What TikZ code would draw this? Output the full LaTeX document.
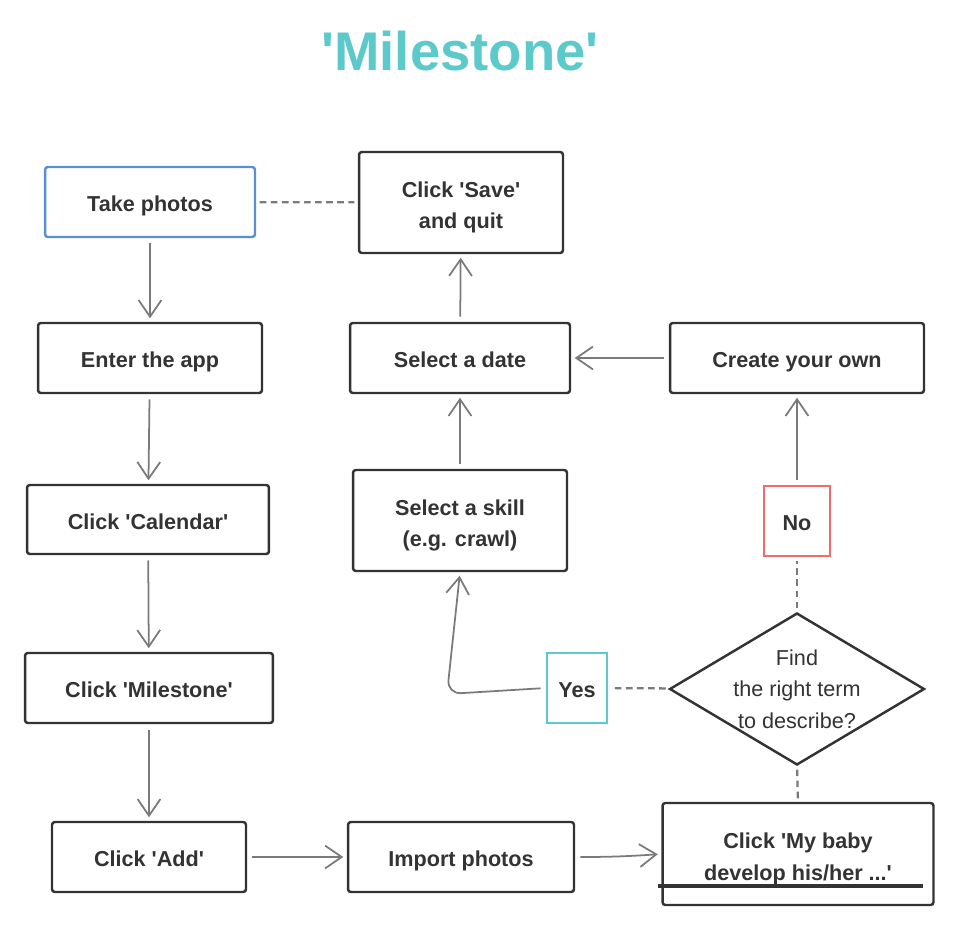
\documentclass[tikz,border=0pt]{standalone}
\usepackage{fontspec}
\setmainfont{Liberation Sans}[Ligatures=TeXOff]
\usetikzlibrary{arrows.meta,shapes.geometric}
\definecolor{txt}{HTML}{333333}
\definecolor{bord}{HTML}{333333}
\definecolor{conn}{HTML}{7A7A7A}
\definecolor{tealc}{HTML}{5CC9CA}
\definecolor{bluec}{HTML}{5B8FD3}
\definecolor{redc}{HTML}{F06B6B}
\tikzset{
  box/.style={draw=bord, line width=1.4pt, rounded corners=1.6pt, fill=white, inner sep=0pt},
  lbl/.style={text=txt, align=center, inner sep=0pt,
    font=\fontsize{12.3}{17.8}\selectfont\bfseries},
  one/.style={lbl, text height=9pt, text depth=2.6pt, yshift=-2.3pt},
  two/.style={lbl, yshift=-2.8pt},
  arr/.style={draw=conn, line width=1pt, -{Straight Barb[length=9.5pt,width=13pt]},
    shorten >=2pt, shorten <=3pt},
  dline/.style={draw=conn, line width=1.3pt, dash pattern=on 3.8pt off 2.5pt,
    shorten >=2pt, shorten <=2pt}
}
\begin{document}
\begin{tikzpicture}[x=0.02cm,y=-0.02cm]
\useasboundingbox (0,0) rectangle (960,946);
\node[text=tealc, font=\fontsize{31}{36}\selectfont\bfseries] (title) at (460,51) {'Milestone'};

\node[box, draw=bluec, minimum width=4.2cm, minimum height=1.4cm] (take) at (150,202) {};
\node[box, minimum width=4.08cm, minimum height=2.02cm] (save) at (461,202.5) {};
\node[box, minimum width=4.48cm, minimum height=1.4cm] (enter) at (150,358) {};
\node[box, minimum width=4.4cm, minimum height=1.4cm] (date) at (460,358) {};
\node[box, minimum width=5.08cm, minimum height=1.4cm] (create) at (797,358) {};
\node[box, minimum width=4.84cm, minimum height=1.38cm] (cal) at (148,519.5) {};
\node[box, minimum width=4.28cm, minimum height=2.02cm] (skill) at (460,520.5) {};
\node[box, draw=redc, rounded corners=0pt, minimum width=1.32cm, minimum height=1.4cm] (no) at (797,521) {};
\node[box, minimum width=4.96cm, minimum height=1.4cm] (mile) at (149,688) {};
\node[box, draw=tealc, rounded corners=0pt, minimum width=1.2cm, minimum height=1.4cm] (yes) at (577,688) {};
\node[diamond, draw=bord, line width=1.4pt, inner sep=0pt, aspect=1.68,
  minimum width=5.1cm, minimum height=3.04cm] (q) at (797,689) {};
\node[box, minimum width=3.88cm, minimum height=1.4cm] (add) at (149,857) {};
\node[box, minimum width=4.52cm, minimum height=1.4cm] (imp) at (461,857) {};
\node[box, minimum width=5.42cm, minimum height=2.04cm] (baby) at (798,854) {};

% texts
\node[one] (take-t) at (take) {Take photos};
\node[two] (save-t) at (save) {Click 'Save'\\and quit};
\node[one] (enter-t) at (enter) {Enter the app};
\node[one] (date-t) at (date) {Select a date};
\node[one] (create-t) at (create) {Create your own};
\node[one] (cal-t) at (cal) {Click 'Calendar'};
\node[two] (skill-t) at (skill) {Select a skill\\(e.g. crawl)};
\node[one] (no-t) at (no) {No};
\node[one] (mile-t) at (mile) {Click 'Milestone'};
\node[one] (yes-t) at (yes) {Yes};
\node[text=txt, align=center, font=\fontsize{12.3}{17.8}\selectfont] (q-t) at (q) {Find\\the right term\\to describe?};
\node[one] (add-t) at (add) {Click 'Add'};
\node[one] (imp-t) at (imp) {Import photos};
\node[two] (baby-t) at (baby) {Click 'My baby\\develop his/her ...'};

% connectors
\draw[arr] (take) -- (enter);
\draw[arr] (enter) -- (cal);
\draw[arr] (cal) -- (mile);
\draw[arr] (mile) -- (add);
\draw[arr] (add) -- (imp);
\draw[arr] (imp.east) to[bend right=2] (baby.west);
\draw[arr] (no) -- (create);
\draw[arr] (create) -- (date);
\draw[arr] (skill) -- (date);
\draw[arr] (date) -- (save);
\coordinate (bend) at (447,694);
\draw[arr, rounded corners=8pt] (yes.west) -- (bend) -- (skill.south);

\draw[dline] (take) -- (save);
\draw[dline] (q) -- (yes);
\draw[dline] (q.north) -- (no.south);
\draw[dline] (baby.north) -- (q.south);

% overlay bar
\draw[line width=2.3pt, draw=bord] (658,886) -- (923,886);
\end{tikzpicture}
\end{document}
